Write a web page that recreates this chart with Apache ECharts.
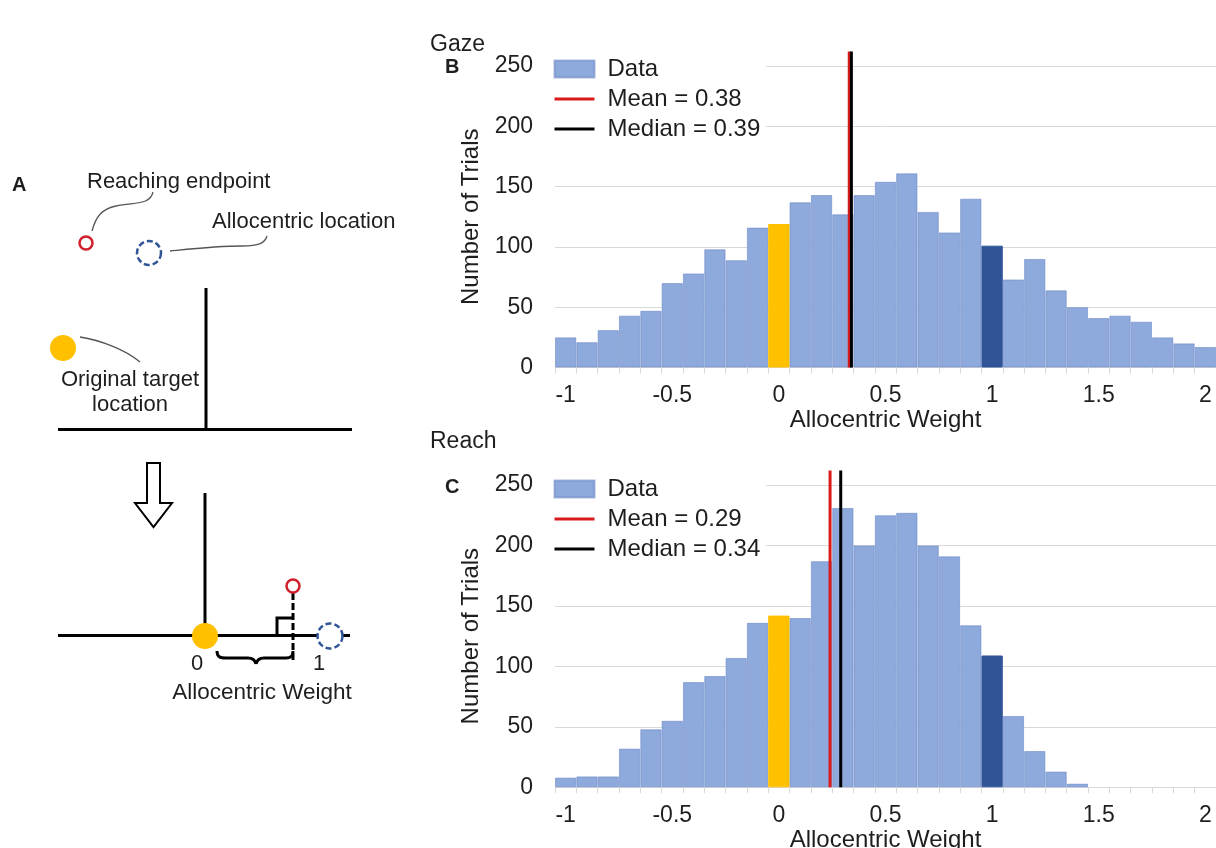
<!DOCTYPE html>
<html>
<head>
<meta charset="utf-8">
<script src="https://cdn.jsdelivr.net/npm/echarts@6/dist/echarts.min.js"></script>
<style>
  html, body { margin: 0; padding: 0; background: #ffffff; }
  #chart { width: 1216px; height: 848px; }
</style>
</head>
<body>
<div id="chart"></div>
<script>
// Histogram bins: each bin covers [start, start + 0.1); labels name the bin start
const binLabels = ['-1', '-0.9', '-0.8', '-0.7', '-0.6', '-0.5', '-0.4', '-0.3', '-0.2', '-0.1',
  '0', '0.1', '0.2', '0.3', '0.4', '0.5', '0.6', '0.7', '0.8', '0.9',
  '1', '1.1', '1.2', '1.3', '1.4', '1.5', '1.6', '1.7', '1.8', '1.9', '2'];
const binWidth = 0.1;

// Trial counts per bin
const gazeCounts = [25, 21, 31, 43, 47, 70, 78, 98, 89, 116,
  119, 137, 143, 127, 143, 154, 161, 129, 112, 140,
  101, 73, 90, 64, 50, 41, 43, 38, 25, 20, 17];
const reachCounts = [8, 9, 9, 32, 48, 55, 87, 92, 107, 136,
  142, 140, 187, 231, 200, 225, 227, 200, 191, 134,
  109, 59, 30, 13, 3, 0, 0, 0, 0, 0, 0];

// Summary statistics
const gazeMean = 0.38, gazeMedian = 0.39;
const reachMean = 0.29, reachMedian = 0.34;

// Y ticks
const countTicks = [0, 50, 100, 150, 200, 250];
const statLineTop = 262;

const COLOR_BAR = '#8eaadc';
const COLOR_EGO = '#ffc000';
const COLOR_ALLO = '#2f5597';
const COLOR_MEAN = '#d91a1a';
const COLOR_MEDIAN = '#000000';
const TEXT = '#1e1e1e';
const FONT = '"Liberation Sans", Arial, sans-serif';

function barData(counts) {
  return counts.map((v, i) => {
    const lab = binLabels[i];
    if (lab === '0') return { value: v, itemStyle: { color: COLOR_EGO, borderColor: COLOR_EGO } };
    if (lab === '1') return { value: v, itemStyle: { color: COLOR_ALLO, borderColor: COLOR_ALLO } };
    if (v === 0) return { value: v, itemStyle: { borderWidth: 0 } };
    return v;
  });
}

function statLine(name, x, color, xi, yi, z) {
  return {
    type: 'line', name: name, xAxisIndex: xi, yAxisIndex: yi,
    data: [[x, 0], [x, statLineTop]], symbol: 'circle', showSymbol: false, clip: false,
    lineStyle: { color: color, width: 3 }, itemStyle: { color: color },
    z: z, silent: true
  };
}

const binMin = parseFloat(binLabels[0]);
const binMax = parseFloat(binLabels[binLabels.length - 1]) + binWidth;

function catAxis(gi) {
  return {
    type: 'category', gridIndex: gi, data: binLabels, boundaryGap: true,
    axisLine: { show: true, lineStyle: { color: '#d9d9d9', width: 1 } },
    axisTick: { show: true, interval: 0, length: 6, lineStyle: { color: '#d9d9d9' } },
    axisLabel: { interval: 4, margin: 17, fontSize: 23, color: TEXT, fontFamily: FONT },
    name: 'Allocentric Weight', nameLocation: 'middle', nameGap: 41,
    nameTextStyle: { fontSize: 24, color: TEXT, fontFamily: FONT },
    splitLine: { show: false }
  };
}
function valXAxis(gi) {
  return { type: 'value', gridIndex: gi, min: binMin, max: binMax, show: false };
}
function countAxis(gi) {
  return {
    type: 'value', gridIndex: gi, min: countTicks[0], max: countTicks[countTicks.length - 1],
    interval: countTicks[1] - countTicks[0],
    axisLine: { show: false }, axisTick: { show: false },
    axisLabel: { margin: 22, fontSize: 23, color: TEXT, fontFamily: FONT },
    splitLine: { lineStyle: { color: '#d9d9d9', width: 1 } },
    name: 'Number of Trials', nameLocation: 'middle', nameGap: 70, nameRotate: 90,
    nameTextStyle: { fontSize: 24, color: TEXT, fontFamily: FONT }
  };
}
function legendFor(top, names, colors) {
  const lineItem = (n, c) => ({ name: n, itemStyle: { opacity: 0 }, lineStyle: { width: 3, color: c } });
  return {
    orient: 'vertical', left: 553, top: top, itemWidth: 40, itemHeight: 17, itemGap: 6,
    backgroundColor: '#ffffff', padding: [0, 6, 0, 0], selectedMode: false,
    textStyle: { fontSize: 24, color: TEXT, fontFamily: FONT, lineHeight: 24, padding: [0, 0, 0, 8] },
    data: [{ name: names[0], icon: 'rect' }, lineItem(names[1], COLOR_MEAN), lineItem(names[2], COLOR_MEDIAN)]
  };
}

const gazeNames = ['Data', 'Mean = ' + gazeMean.toFixed(2), 'Median = ' + gazeMedian.toFixed(2)];
const reachNames = ['Data', 'Mean = ' + reachMean.toFixed(2), 'Median = ' + reachMedian.toFixed(2)];

// Schematic of how the allocentric weight is defined
const ink = '#000000';
const connector = { stroke: '#555555', lineWidth: 1.3, fill: null };
const txt = (text, x, y, size, align, weight) => ({
  type: 'text', x: x, y: y,
  style: { text: text, fontSize: size, fontFamily: FONT, fill: TEXT, fontWeight: weight || 'normal',
    align: align || 'left', verticalAlign: 'middle' }
});
const curve = (x1, y1, cx1, cy1, cx2, cy2, x2, y2, style) => ({
  type: 'bezierCurve',
  shape: { x1: x1, y1: y1, cpx1: cx1, cpy1: cy1, cpx2: cx2, cpy2: cy2, x2: x2, y2: y2 },
  style: style
});
const seg = (x1, y1, x2, y2, style) => ({ type: 'line', shape: { x1: x1, y1: y1, x2: x2, y2: y2 }, style: style });
const solid = { stroke: ink, lineWidth: 3, fill: null };
const endpointStyle = { stroke: '#d0202e', lineWidth: 2.5, fill: '#ffffff' };
const alloStyle = { stroke: COLOR_ALLO, lineWidth: 2.5, fill: '#ffffff', lineDash: [6, 3] };

const schematic = [
  txt('A', 12, 185, 20, 'left', 'bold'),
  txt('Reaching endpoint', 87, 182, 22),
  curve(92, 231, 96, 216, 102, 209, 116, 206, connector),
  curve(116, 206, 136, 202, 150, 205, 153, 192, connector),
  { type: 'circle', shape: { cx: 86, cy: 243, r: 6.5 }, style: endpointStyle },
  { type: 'circle', shape: { cx: 149, cy: 253, r: 12 }, style: alloStyle },
  curve(170, 251, 200, 248, 218, 246, 242, 246, connector),
  curve(242, 246, 259, 246, 265, 243, 267, 236, connector),
  txt('Allocentric location', 212, 222, 22),
  seg(206, 288, 206, 430, solid),
  seg(58, 429.5, 352, 429.5, solid),
  { type: 'circle', shape: { cx: 63, cy: 348, r: 13 }, style: { fill: COLOR_EGO } },
  curve(80, 337, 100, 340, 126, 350, 140, 362, connector),
  txt('Original target', 130, 380, 22, 'center'),
  txt('location', 130, 405, 22, 'center'),
  { type: 'polygon', shape: { points: [[147, 463], [160, 463], [160, 503], [172, 503], [153.5, 527], [135, 503], [147, 503]] },
    style: { stroke: ink, lineWidth: 2, fill: '#ffffff' } },
  seg(205, 493, 205, 636, solid),
  seg(58, 635.5, 350, 635.5, solid),
  { type: 'polyline', shape: { points: [[277, 635], [277, 618], [293, 618]] }, style: solid },
  seg(293, 593, 293, 662, { stroke: ink, lineWidth: 3, lineDash: [7, 3] }),
  { type: 'circle', shape: { cx: 205, cy: 636, r: 13 }, style: { fill: COLOR_EGO } },
  { type: 'circle', shape: { cx: 293, cy: 586, r: 6.5 }, style: endpointStyle },
  { type: 'circle', shape: { cx: 330, cy: 636, r: 12.5 }, style: alloStyle },
  // curly brace under the projected distance
  curve(217, 651, 217, 657, 220, 658, 226, 658, solid),
  seg(226, 658, 248, 658, solid),
  curve(248, 658, 253, 658, 255, 660, 256, 664, solid),
  curve(256, 664, 257, 660, 259, 658, 264, 658, solid),
  seg(264, 658, 286, 658, solid),
  curve(286, 658, 291, 658, 293, 656, 293, 651, solid),
  txt('0', 197, 664, 22, 'center'),
  txt('1', 319, 664, 22, 'center'),
  txt('Allocentric Weight', 262, 693, 22.5, 'center')
];

const chart = echarts.init(document.getElementById('chart'), null, { renderer: 'canvas' });
chart.setOption({
  animation: false,
  backgroundColor: '#ffffff',
  textStyle: { fontFamily: FONT },
  title: [
    { text: 'Gaze', left: 430, top: 33, padding: 0, textStyle: { fontSize: 23, fontWeight: 'normal', color: TEXT, fontFamily: FONT } },
    { text: 'B', left: 445, top: 57, padding: 0, textStyle: { fontSize: 20, fontWeight: 'bold', color: TEXT, fontFamily: FONT } },
    { text: 'Reach', left: 430, top: 430, padding: 0, textStyle: { fontSize: 23, fontWeight: 'normal', color: TEXT, fontFamily: FONT } },
    { text: 'C', left: 445, top: 477, padding: 0, textStyle: { fontSize: 20, fontWeight: 'bold', color: TEXT, fontFamily: FONT } }
  ],
  legend: [legendFor(57, gazeNames), legendFor(477, reachNames)],
  grid: [
    { left: 555, top: 66, width: 661, height: 301.5, containLabel: false, outerBoundsMode: 'none' },
    { left: 555, top: 485, width: 661, height: 302.3, containLabel: false, outerBoundsMode: 'none' }
  ],
  xAxis: [catAxis(0), valXAxis(0), catAxis(1), valXAxis(1)],
  yAxis: [countAxis(0), countAxis(1)],
  series: [
    { type: 'bar', name: 'Data', xAxisIndex: 0, yAxisIndex: 0, data: barData(gazeCounts),
      barCategoryGap: 0, itemStyle: { color: COLOR_BAR, borderColor: 'rgba(100,130,195,0.55)', borderWidth: 1 }, silent: true },
    statLine(gazeNames[1], gazeMean, COLOR_MEAN, 1, 0, 5),
    statLine(gazeNames[2], gazeMedian, COLOR_MEDIAN, 1, 0, 6),
    { type: 'bar', name: 'Data', xAxisIndex: 2, yAxisIndex: 1, data: barData(reachCounts),
      barCategoryGap: 0, itemStyle: { color: COLOR_BAR, borderColor: 'rgba(100,130,195,0.55)', borderWidth: 1 }, silent: true },
    statLine(reachNames[1], reachMean, COLOR_MEAN, 3, 1, 5),
    statLine(reachNames[2], reachMedian, COLOR_MEDIAN, 3, 1, 6)
  ],
  graphic: { elements: schematic }
});
</script>
</body>
</html>
